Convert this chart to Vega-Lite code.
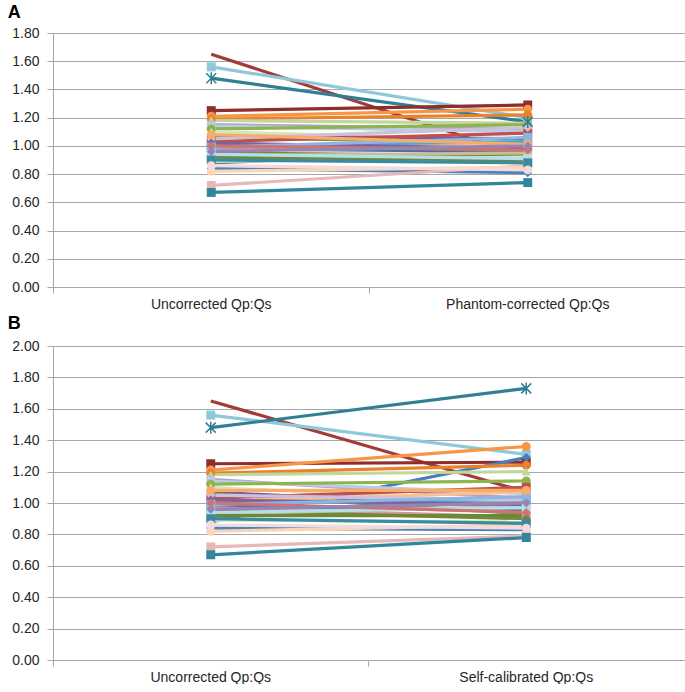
{
  "$schema": "https://vega.github.io/schema/vega-lite/v6.json",
  "padding": {"left": 7, "top": 4, "right": 2, "bottom": 0},
  "spacing": 4,
  "config": {
    "view": {"stroke": null},
    "font": "Liberation Sans",
    "axis": {"labelFont": "Liberation Sans", "labelFontSize": 14, "labelColor": "#262626", "gridColor": "#a6a6a6", "gridWidth": 1, "domainColor": "#a6a6a6", "tickColor": "#a6a6a6", "tickSize": 6, "title": null},
    "title": {"font": "Liberation Sans", "fontSize": 18, "fontWeight": "bold", "color": "#000000", "anchor": "start"}
  },
  "datasets": {
    "pts": [
      {"s": "S01", "u": 1.65, "a": 0.92, "b": 1.07},
      {"s": "S02", "u": 1.56, "a": 1.20, "b": 1.31},
      {"s": "S03", "u": 1.48, "a": 1.17, "b": 1.73},
      {"s": "S04", "u": 1.25, "a": 1.29, "b": 1.26},
      {"s": "S05", "u": 1.21, "a": 1.26, "b": 1.36},
      {"s": "S06", "u": 0.84, "a": 0.81, "b": 0.83},
      {"s": "S07", "u": 0.72, "a": 0.86, "b": 0.79},
      {"s": "S08", "u": 0.67, "a": 0.74, "b": 0.78},
      {"s": "S09", "u": 0.88, "a": 0.97, "b": 1.29},
      {"s": "S10", "u": 1.19, "a": 1.22, "b": 1.24},
      {"s": "S11", "u": 1.18, "a": 1.16, "b": 1.20},
      {"s": "S12", "u": 1.15, "a": 1.12, "b": 1.03},
      {"s": "S13", "u": 1.14, "a": 1.10, "b": 1.06},
      {"s": "S14", "u": 1.12, "a": 1.15, "b": 1.14},
      {"s": "S15", "u": 1.10, "a": 1.04, "b": 1.00},
      {"s": "S16", "u": 1.07, "a": 1.05, "b": 0.97},
      {"s": "S17", "u": 1.06, "a": 1.02, "b": 0.93},
      {"s": "S18", "u": 1.03, "a": 1.09, "b": 1.10},
      {"s": "S19", "u": 1.01, "a": 1.00, "b": 1.07},
      {"s": "S20", "u": 1.00, "a": 1.03, "b": 1.02},
      {"s": "S21", "u": 0.98, "a": 0.96, "b": 0.95},
      {"s": "S22", "u": 0.97, "a": 0.99, "b": 0.91},
      {"s": "S23", "u": 0.95, "a": 0.93, "b": 0.90},
      {"s": "S24", "u": 0.93, "a": 0.95, "b": 0.98},
      {"s": "S25", "u": 0.89, "a": 0.92, "b": 0.88},
      {"s": "S26", "u": 0.82, "a": 0.85, "b": 0.86},
      {"s": "S27", "u": 1.05, "a": 1.13, "b": 1.02},
      {"s": "S28", "u": 1.02, "a": 0.98, "b": 0.99},
      {"s": "S29", "u": 0.99, "a": 1.06, "b": 1.04},
      {"s": "S30", "u": 0.92, "a": 0.90, "b": 0.92},
      {"s": "S31", "u": 1.08, "a": 1.01, "b": 1.08},
      {"s": "S32", "u": 0.94, "a": 0.91, "b": 0.97},
      {"s": "S33", "u": 1.00, "a": 0.97, "b": 0.94},
      {"s": "S34", "u": 0.96, "a": 1.00, "b": 1.00},
      {"s": "S35", "u": 0.90, "a": 0.88, "b": 0.87},
      {"s": "S36", "u": 0.86, "a": 0.83, "b": 0.84}
    ]
  },
  "vconcat": [
    {
      "title": {"text": "A", "offset": 4, "dx": -4},
      "width": 633,
      "height": 254,
      "data": {"name": "pts"},
      "transform": [{"fold": ["u", "a"], "as": ["k", "v"]}],
      "encoding": {
        "x": {"field": "k", "type": "nominal", "scale": {"type": "band", "domain": ["u", "a"], "paddingInner": 0, "paddingOuter": 0}, "bandPosition": 0.5,
              "axis": {"labelExpr": "datum.value == 'u' ? 'Uncorrected Qp:Qs' : 'Phantom-corrected Qp:Qs'", "bandPosition": 0, "labelAngle": 0, "labelPadding": 4, "domain": true, "ticks": true, "grid": false}},
        "y": {"field": "v", "type": "quantitative", "scale": {"domain": [0, 1.8], "nice": false, "zero": true},
              "axis": {"values": [0, 0.2, 0.4, 0.6, 0.8, 1.0, 1.2, 1.4, 1.6, 1.8], "format": ".2f", "labelPadding": 8}},
        "color": {"field": "s", "type": "nominal", "legend": null,
                  "scale": {"domain": ["S01","S02","S03","S04","S05","S06","S07","S08","S09","S10","S11","S12","S13","S14","S15","S16","S17","S18","S19","S20","S21","S22","S23","S24","S25","S26","S27","S28","S29","S30","S31","S32","S33","S34","S35","S36"],
                            "range": ["#a33a36","#8fc8d9","#2f7f95","#8e2d2a","#f79646","#4f81bd","#e6b9b8","#31859c","#4a7ebb","#e8822e","#c3d69b","#b3a2c7","#b9cde5","#8cb54e","#d7e4bd","#7a5f9c","#77933c","#c0504d","#fac090","#4bacc6","#4a72a8","#d99694","#6e8e36","#c4bd97","#d7e4bd","#fcd5b5","#ccc1da","#7d649c","#8eb4e3","#6a8a3a","#f9ab6b","#b7dee8","#cd7371","#9983b5","#3a8aa0","#f2dcdb"]}}
      },
      "layer": [
        {"mark": {"type": "line", "strokeWidth": 3.2}},
        {"transform": [{"filter": "datum.s != 'S01' && datum.s != 'S03'"}],
         "mark": {"type": "point", "filled": true, "size": 80, "opacity": 1},
         "encoding": {"shape": {"field": "s", "type": "nominal", "legend": null,
                     "scale": {"domain": ["S02","S04","S05","S06","S07","S08","S09","S10","S11","S12","S13","S14","S15","S16","S17","S18","S19","S20","S21","S22","S23","S24","S25","S26","S27","S28","S29","S30","S31","S32","S33","S34","S35","S36"],
                               "range": ["square","square","circle","diamond","square","square","diamond","circle","triangle-up","diamond","square","circle","triangle-up","diamond","triangle-up","square","circle","square","diamond","square","triangle-up","circle","triangle-up","circle","diamond","diamond","square","triangle-up","circle","square","diamond","diamond","square","circle"]}}}},
        {"transform": [{"filter": "datum.s == 'S03'"}],
         "mark": {"type": "point", "filled": false, "size": 100, "strokeWidth": 1.5, "opacity": 1, "shape": "M-1,-1L1,1M-1,1L1,-1M0,-1.2L0,1.2"}}
      ]
    },
    {
      "title": {"text": "B", "offset": 6, "dx": -4},
      "width": 631,
      "height": 314,
      "data": {"name": "pts"},
      "transform": [{"fold": ["u", "b"], "as": ["k", "v"]}],
      "encoding": {
        "x": {"field": "k", "type": "nominal", "scale": {"type": "band", "domain": ["u", "b"], "paddingInner": 0, "paddingOuter": 0}, "bandPosition": 0.5,
              "axis": {"labelExpr": "datum.value == 'u' ? 'Uncorrected Qp:Qs' : 'Self-calibrated Qp:Qs'", "bandPosition": 0, "labelAngle": 0, "labelPadding": 4, "domain": true, "ticks": true, "grid": false}},
        "y": {"field": "v", "type": "quantitative", "scale": {"domain": [0, 2], "nice": false, "zero": true},
              "axis": {"values": [0, 0.2, 0.4, 0.6, 0.8, 1.0, 1.2, 1.4, 1.6, 1.8, 2.0], "format": ".2f", "labelPadding": 8}},
        "color": {"field": "s", "type": "nominal", "legend": null,
                  "scale": {"domain": ["S01","S02","S03","S04","S05","S06","S07","S08","S09","S10","S11","S12","S13","S14","S15","S16","S17","S18","S19","S20","S21","S22","S23","S24","S25","S26","S27","S28","S29","S30","S31","S32","S33","S34","S35","S36"],
                            "range": ["#a33a36","#8fc8d9","#2f7f95","#8e2d2a","#f79646","#4f81bd","#e6b9b8","#31859c","#4a7ebb","#e8822e","#c3d69b","#b3a2c7","#b9cde5","#8cb54e","#d7e4bd","#7a5f9c","#77933c","#c0504d","#fac090","#4bacc6","#4a72a8","#d99694","#6e8e36","#c4bd97","#d7e4bd","#fcd5b5","#ccc1da","#7d649c","#8eb4e3","#6a8a3a","#f9ab6b","#b7dee8","#cd7371","#9983b5","#3a8aa0","#f2dcdb"]}}
      },
      "layer": [
        {"mark": {"type": "line", "strokeWidth": 3.2}},
        {"transform": [{"filter": "datum.s != 'S01' && datum.s != 'S03'"}],
         "mark": {"type": "point", "filled": true, "size": 80, "opacity": 1},
         "encoding": {"shape": {"field": "s", "type": "nominal", "legend": null,
                     "scale": {"domain": ["S02","S04","S05","S06","S07","S08","S09","S10","S11","S12","S13","S14","S15","S16","S17","S18","S19","S20","S21","S22","S23","S24","S25","S26","S27","S28","S29","S30","S31","S32","S33","S34","S35","S36"],
                               "range": ["square","square","circle","diamond","square","square","diamond","circle","triangle-up","diamond","square","circle","triangle-up","diamond","triangle-up","square","circle","square","diamond","square","triangle-up","circle","triangle-up","circle","diamond","diamond","square","triangle-up","circle","square","diamond","diamond","square","circle"]}}}},
        {"transform": [{"filter": "datum.s == 'S03'"}],
         "mark": {"type": "point", "filled": false, "size": 100, "strokeWidth": 1.5, "opacity": 1, "shape": "M-1,-1L1,1M-1,1L1,-1M0,-1.2L0,1.2"}}
      ]
    }
  ]
}
